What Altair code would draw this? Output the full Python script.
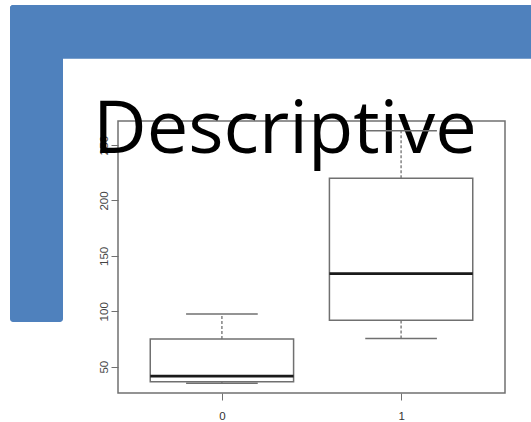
import altair as alt
import pandas as pd

# Box-plot summary per group
groups = ["0", "1"]
lower = [35, 75.5]
q1 = [36.5, 92]
median = [41.5, 134]
q3 = [75, 220]
upper = [97.5, 263]

title_text = "Descriptive"
y_ticks = [50, 100, 150, 200, 250]

df = pd.DataFrame({
    "group": groups,
    "pos": [i + 1 for i in range(len(groups))],
    "lower": lower,
    "q1": q1,
    "median": median,
    "q3": q3,
    "upper": upper,
})

line_col = "#707070"
W, H = 387, 272

x_scale = alt.Scale(domain=[0.42, 2.58], nice=False, zero=False)
y_scale = alt.Scale(domain=[26.3, 271.7], nice=False, zero=False)

label_expr = "datum.value == 1 ? '" + groups[0] + "' : '" + groups[1] + "'"

x_axis = alt.Axis(values=[1, 2], labelExpr=label_expr, title=None, grid=False,
                  domain=False, tickSize=7, tickColor=line_col, labelColor="#333",
                  labelFont="Liberation Sans", labelFontSize=11.5, labelPadding=10,
                  labelBaseline="top")
y_axis = alt.Axis(values=y_ticks, title=None, grid=False, domain=False,
                  tickSize=7, tickColor=line_col, labelColor="#444",
                  labelFont="Liberation Sans", labelFontSize=11.5,
                  labelAngle=-90, labelAlign="center", labelBaseline="bottom",
                  labelPadding=2)

base = alt.Chart(df).transform_calculate(
    left="datum.pos - 0.4", right="datum.pos + 0.4",
    cl="datum.pos - 0.2", cr="datum.pos + 0.2",
)

one = alt.Data(values=[{}])

# slide decoration: blue L-shaped band
band_top = alt.Chart(one).mark_rect(color="#4F81BD", cornerRadius=3).encode(
    x=alt.value(-108), x2=alt.value(420), y=alt.value(-116), y2=alt.value(-62.3))
band_left = alt.Chart(one).mark_rect(color="#4F81BD", cornerRadius=3).encode(
    x=alt.value(-108), x2=alt.value(-55), y=alt.value(-116), y2=alt.value(201))

heading = alt.Chart(one).mark_text(
    text=title_text, font="Open Sans", fontSize=74, color="black",
    align="left", baseline="alphabetic").encode(x=alt.value(-25), y=alt.value(32))

whisk_hi = base.mark_rule(color=line_col, strokeWidth=1.3, strokeDash=[3, 2]).encode(
    x=alt.X("pos:Q", scale=x_scale, axis=x_axis),
    y=alt.Y("q3:Q", scale=y_scale, axis=y_axis), y2="upper:Q")
whisk_lo = base.mark_rule(color=line_col, strokeWidth=1.3, strokeDash=[3, 2]).encode(
    x="pos:Q", y="lower:Q", y2="q1:Q")
cap_hi = base.mark_rule(color=line_col, strokeWidth=1.5).encode(
    x="cl:Q", x2="cr:Q", y="upper:Q")
cap_lo = base.mark_rule(color=line_col, strokeWidth=1.5).encode(
    x="cl:Q", x2="cr:Q", y="lower:Q")
box = base.mark_rect(fill="white", fillOpacity=0, stroke=line_col, strokeWidth=1.5).encode(
    x="left:Q", x2="right:Q", y="q1:Q", y2="q3:Q")
med = base.mark_rule(color="#1a1a1a", strokeWidth=2.8).encode(
    x="left:Q", x2="right:Q", y="median:Q")

chart = alt.layer(
    band_top, band_left, heading, whisk_hi, whisk_lo, cap_hi, cap_lo, box, med
).properties(
    width=W, height=H,
    padding={"left": 118, "top": 121, "right": 26, "bottom": 29},
    autosize=alt.AutoSizeParams(type="none"),
    background="white",
).configure_view(stroke=line_col, strokeWidth=1.5, fill=None)

chart.save("out.html", embed_options={"renderer": "svg", "actions": False})
